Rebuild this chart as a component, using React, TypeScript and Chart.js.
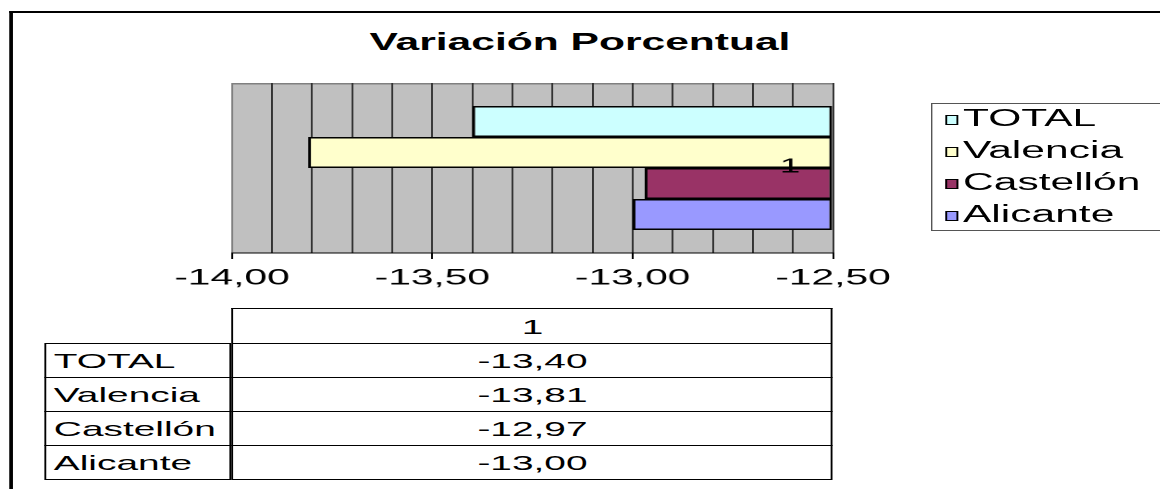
import React, { useEffect, useRef } from 'react';
import { Chart, registerables } from 'chart.js';

Chart.register(...registerables);

// ---- data ----
const chartTitle = 'Variación Porcentual';
const categories = ['1'];
const seriesNames = ['TOTAL', 'Valencia', 'Castellón', 'Alicante'];
const seriesValues = [-13.4, -13.81, -12.97, -13.0];
const seriesColors = ['#CCFFFF', '#FFFFCC', '#993366', '#9999FF'];
const axisMin = -14;
const axisMax = -12.5;
const gridStep = 0.1;
const labelStep = 0.5;

// ---- layout (reference is horizontally stretched) ----
const S = 1.85;
const W = Math.round(1160 / S);
const ux = (x: number) => x / S;
const FONT = '"Liberation Sans", Arial, Helvetica, sans-serif';
const CH = 300;
const XAXIS_H = 40;
const area = { left: ux(232), right: ux(833), top: 83, bottom: 253 };

const fmt = (v: number) => v.toFixed(2).replace('.', ',');
const isMajor = (v: number) =>
  typeof v === 'number' && Math.abs(v / labelStep - Math.round(v / labelStep)) < 1e-6;

const plotBg = {
  id: 'plotBg',
  beforeDraw(chart: any) {
    const { ctx, chartArea: a } = chart;
    ctx.save();
    ctx.fillStyle = '#C0C0C0';
    ctx.fillRect(a.left, a.top, a.right - a.left, a.bottom - a.top);
    ctx.strokeStyle = '#808080';
    ctx.lineWidth = 1.5;
    ctx.beginPath();
    ctx.moveTo(a.left, a.top + 0.75);
    ctx.lineTo(a.right, a.top + 0.75);
    ctx.stroke();
    ctx.restore();
  },
};

const catLabel = {
  id: 'catLabel',
  afterDatasetsDraw(chart: any) {
    const { ctx, chartArea: a } = chart;
    const y = chart.scales.y;
    ctx.save();
    ctx.font = `20px ${FONT}`;
    ctx.fillStyle = '#000';
    ctx.textAlign = 'center';
    ctx.textBaseline = 'middle';
    categories.forEach((c, i) => ctx.fillText(c, a.right - ux(43), y.getPixelForValue(i) - 1));
    ctx.restore();
  },
};

function BarChart() {
  const ref = useRef<HTMLCanvasElement | null>(null);
  useEffect(() => {
    if (!ref.current) return;
    const chart = new Chart(ref.current, {
      type: 'bar',
      data: {
        labels: categories,
        datasets: seriesNames.map((name, i) => ({
          label: name,
          data: [seriesValues[i]],
          base: axisMax,
          backgroundColor: seriesColors[i],
          borderColor: '#000000',
          borderWidth: 1.5,
          borderSkipped: false,
          categoryPercentage: 0.73,
          barPercentage: 1,
        })),
      },
      options: {
        animation: false,
        responsive: false,
        devicePixelRatio: 2,
        indexAxis: 'y',
        layout: {
          padding: {
            left: area.left,
            right: W - area.right,
            top: area.top,
            bottom: CH - area.bottom - XAXIS_H,
          },
        },
        plugins: {
          legend: { display: false },
          title: { display: false },
          tooltip: { enabled: false },
        },
        scales: {
          x: {
            type: 'linear',
            min: axisMin,
            max: axisMax,
            afterFit: (s: any) => {
              s.height = XAXIS_H;
            },
            ticks: {
              stepSize: gridStep,
              autoSkip: false,
              maxRotation: 0,
              minRotation: 0,
              padding: 6,
              color: '#000',
              font: { family: FONT, size: 22 },
              callback: (v: any) => (isMajor(Number(v)) ? fmt(Number(v)) : ''),
            },
            grid: {
              color: (c: any) => (c.index === 0 ? '#808080' : '#333333'),
              lineWidth: 1,
              tickLength: 6,
              tickColor: (c: any) => (c.tick && isMajor(c.tick.value) ? '#000' : 'rgba(0,0,0,0)'),
            },
            border: { display: true, color: '#000', width: 1 },
          },
          y: {
            type: 'category',
            display: false,
          },
        },
      },
      plugins: [plotBg, catLabel],
    } as any);
    return () => chart.destroy();
  }, []);
  return (
    <canvas
      ref={ref}
      width={W}
      height={CH}
      style={{ position: 'absolute', left: 0, top: 0, width: W, height: CH }}
    />
  );
}

export default function App() {
  const rowTop = 343;
  const rowH = 34;
  const tableLeft = ux(44);
  const colSplit = ux(232);
  const tableRight = ux(833);
  const cellBorder = '1px solid #000';
  return (
    <div
      style={{
        position: 'fixed',
        left: 0,
        top: 0,
        width: W,
        height: 489,
        transform: `scaleX(${S})`,
        transformOrigin: '0 0',
        fontFamily: FONT,
        color: '#000',
        background: '#fff',
      }}
    >
      <div
        style={{
          position: 'absolute',
          left: ux(9),
          top: 11,
          width: W + 40,
          height: 600,
          borderTop: '2px solid #000',
          borderLeft: '2px solid #000',
        }}
      />
      <div
        style={{
          position: 'absolute',
          left: 0,
          top: 28,
          width: W,
          textAlign: 'center',
          fontWeight: 'bold',
          fontSize: 23,
          lineHeight: '28px',
        }}
      >
        {chartTitle}
      </div>
      <BarChart />
      {/* legend */}
      <div
        style={{
          position: 'absolute',
          left: ux(931),
          top: 103,
          width: W,
          height: 128,
          border: '1px solid #555',
          boxSizing: 'border-box',
        }}
      />
      {seriesNames.map((n, i) => (
        <div key={n}>
          <div
            style={{
              position: 'absolute',
              left: ux(946),
              top: 119 + 32 * i - 4,
              width: ux(13),
              height: 10,
              background: seriesColors[i],
              border: '1px solid #000',
              boxSizing: 'border-box',
            }}
          />
          <div
            style={{
              position: 'absolute',
              left: ux(963),
              top: 118 + 32 * i - 14,
              fontSize: 23,
              lineHeight: '28px',
              whiteSpace: 'nowrap',
            }}
          >
            {n}
          </div>
        </div>
      ))}
      {/* data table */}
      <div
        style={{
          position: 'absolute',
          left: colSplit,
          top: 308,
          width: tableRight - colSplit,
          height: rowTop - 308,
          borderTop: cellBorder,
          borderLeft: cellBorder,
          borderRight: cellBorder,
          boxSizing: 'border-box',
          textAlign: 'center',
          fontSize: 21,
          lineHeight: `${rowTop - 308}px`,
        }}
      >
        {categories[0]}
      </div>
      {seriesNames.map((n, i) => (
        <div key={'r' + n}>
          <div
            style={{
              position: 'absolute',
              left: tableLeft,
              top: rowTop + rowH * i,
              width: colSplit - tableLeft,
              height: rowH + 1,
              border: cellBorder,
              boxSizing: 'border-box',
              paddingLeft: ux(8),
              fontSize: 21,
              lineHeight: `${rowH - 1}px`,
              whiteSpace: 'nowrap',
            }}
          >
            {n}
          </div>
          <div
            style={{
              position: 'absolute',
              left: colSplit,
              top: rowTop + rowH * i,
              width: tableRight - colSplit,
              height: rowH + 1,
              border: cellBorder,
              boxSizing: 'border-box',
              textAlign: 'center',
              fontSize: 21,
              lineHeight: `${rowH - 1}px`,
            }}
          >
            {fmt(seriesValues[i])}
          </div>
        </div>
      ))}
    </div>
  );
}
